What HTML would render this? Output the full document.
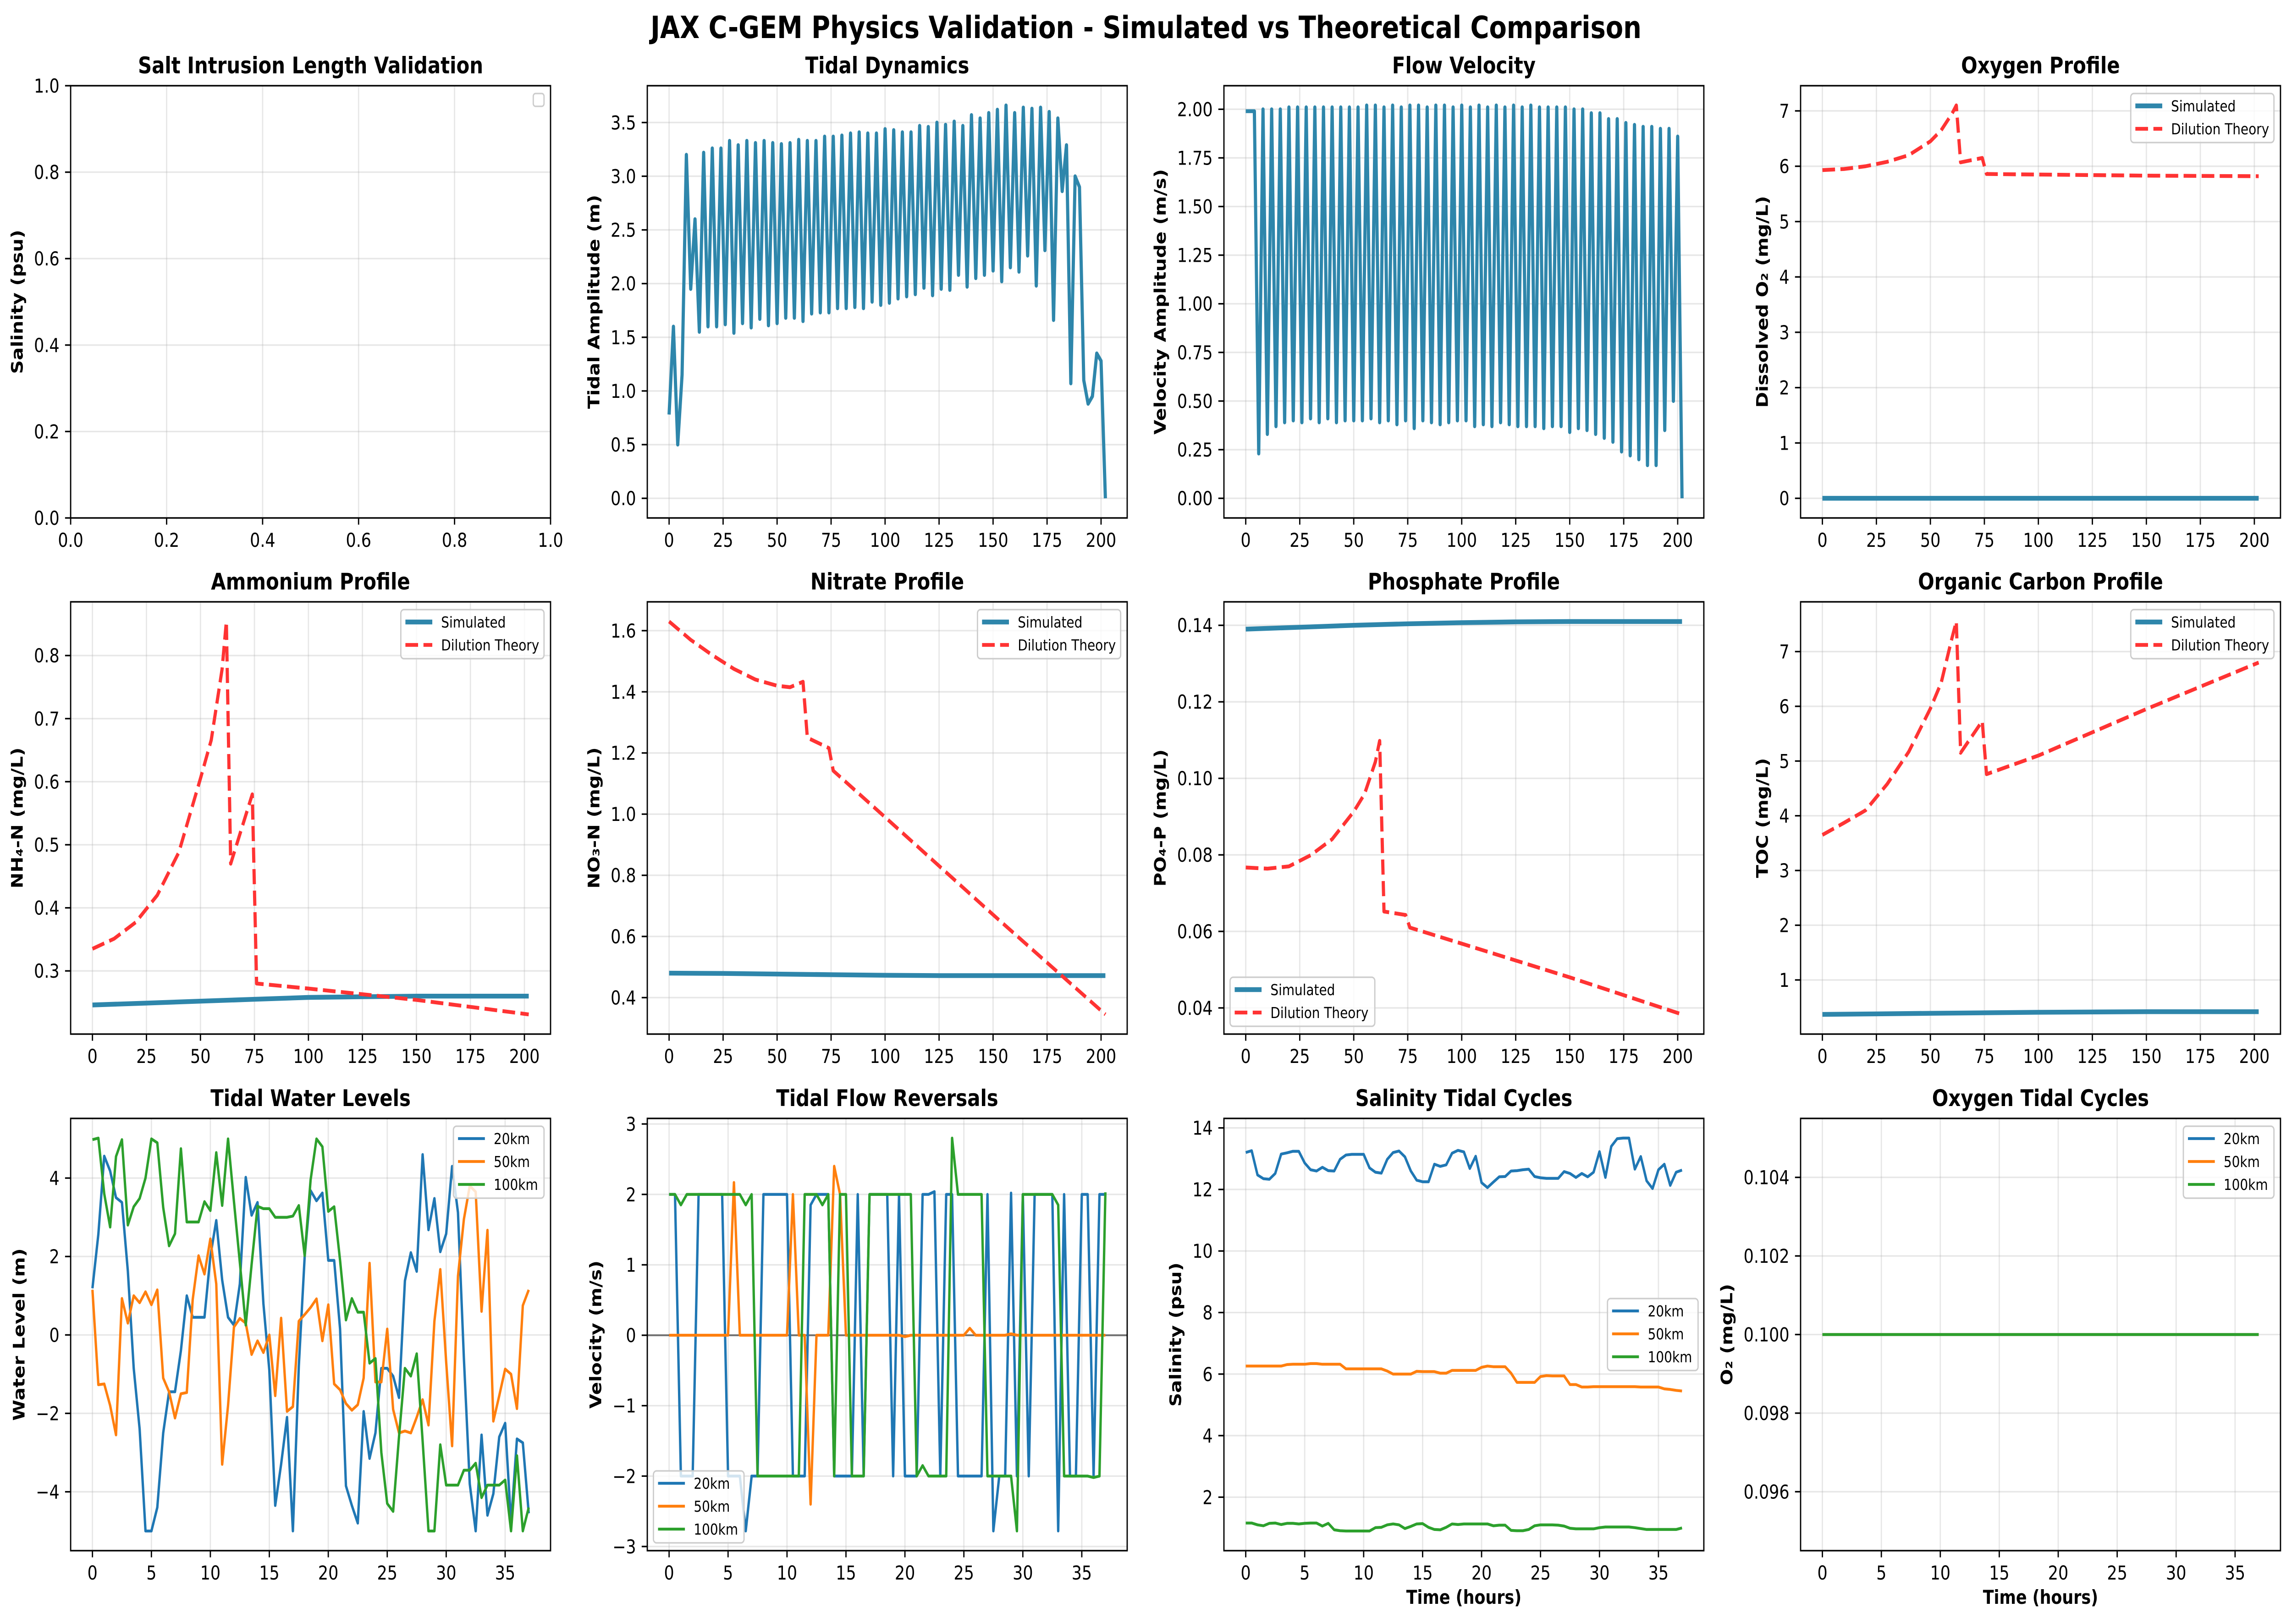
<!DOCTYPE html>
<html>
<head>
<meta charset="utf-8">
<title>JAX C-GEM Physics Validation</title>
<style>
html,body{margin:0;padding:0;background:#fff;width:5970px;height:3543px;overflow:hidden;}
svg{display:block;width:100vw;height:100vh;}
text{font-family:"DejaVu Sans","Liberation Sans",sans-serif;}
</style>
</head>
<body>
<svg id="fig" xmlns="http://www.w3.org/2000/svg" viewBox="0 0 5970 3543" preserveAspectRatio="none">
<rect x="0" y="0" width="5970" height="3543" fill="#ffffff"/>
<text x="2985" y="83" text-anchor="middle" font-size="66.7" font-weight="bold" fill="#000">JAX C-GEM Physics Validation - Simulated vs Theoretical Comparison</text>
</svg>
<script>
// ---------------- DATA ----------------
const tidalAmp = [0.78,1.6,0.5,1.15,3.2,1.95,2.6,1.55,
3.22,1.6,3.26,1.6,3.26,1.62,3.33,1.54,3.29,1.63,3.33,1.59,3.31,1.67,3.33,1.61,3.31,1.63,3.3,1.68,3.31,1.68,3.34,1.65,3.33,1.72,3.33,1.73,3.37,1.73,3.37,1.77,3.38,1.77,3.4,1.78,3.41,1.77,3.4,1.83,3.4,1.8,3.44,1.82,3.43,1.86,3.41,1.88,3.41,1.9,3.47,1.96,3.46,1.89,3.5,1.95,3.48,1.94,3.51,2.08,3.47,1.97,3.57,2.05,3.54,2.08,3.59,2.12,3.62,2.02,3.66,2.15,3.59,2.11,3.64,2.26,3.63,1.98,3.64,2.31,3.6,1.66,
3.54,2.86,3.29,1.07,3.0,2.9,1.1,0.88,0.95,1.35,1.28,0.0];
const velAmp = [1.99,1.99,1.99,0.23,2.0,0.33,2.0,0.37,2.0,0.39,2.01,0.40,2.01,0.39,2.01,0.41,2.01,0.39,2.01,0.41,2.01,0.39,2.01,0.40,2.01,0.40,2.01,0.40,2.02,0.41,2.02,0.39,2.01,0.40,2.02,0.38,2.01,0.40,2.02,0.36,2.02,0.40,2.01,0.39,2.02,0.38,2.02,0.39,2.01,0.40,2.02,0.40,2.01,0.37,2.02,0.38,2.01,0.37,2.02,0.39,2.01,0.38,2.02,0.37,2.01,0.37,2.02,0.37,2.01,0.36,2.01,0.37,2.01,0.37,2.01,0.34,2.0,0.36,2.0,0.35,1.98,0.33,1.98,0.31,1.95,0.29,1.95,0.24,1.93,0.22,1.92,0.20,1.91,0.17,1.91,0.17,1.90,0.35,1.90,0.50,1.86,0.0];
const distStep = 2;

const theoryX = [0,10,20,30,40,50,55,60,62,64,74,76,100,150,202];
const simX = [0,25,50,75,100,125,150,202];
const oxyTheory = [5.93,5.95,6.0,6.08,6.2,6.45,6.65,6.95,7.1,6.07,6.15,5.86,5.85,5.83,5.82];
const oxySim = [0,0,0,0,0,0,0,0];
const nh4Theory = [0.335,0.351,0.377,0.42,0.488,0.605,0.666,0.778,0.854,0.47,0.58,0.28,0.272,0.254,0.231];
const nh4Sim = [0.246,0.249,0.252,0.255,0.258,0.259,0.26,0.26];
const no3TheoryX = [0,10,20,30,40,50,56,62,64,74,76,100,150,202];
const no3Theory = [1.63,1.57,1.52,1.475,1.44,1.42,1.415,1.433,1.25,1.216,1.142,0.99,0.671,0.345];
const no3Sim = [0.48,0.479,0.477,0.475,0.473,0.472,0.472,0.472];
const po4Theory = [0.0767,0.0764,0.077,0.0799,0.0841,0.0913,0.0959,0.1043,0.1098,0.0652,0.0643,0.061,0.0568,0.048,0.0383];
const po4Sim = [0.139,0.1395,0.14,0.1404,0.1407,0.1409,0.141,0.141];
const tocTheory = [3.65,3.87,4.1,4.58,5.17,5.96,6.43,7.25,7.55,5.15,5.73,4.76,5.1,5.95,6.8];
const tocSim = [0.37,0.38,0.39,0.40,0.41,0.415,0.42,0.42];

const timeStep = 0.5;
const wl20 = [1.19,2.57,4.56,4.18,3.5,3.38,1.63,-0.85,-2.4,-5.0,-5.0,-4.4,-2.5,-1.45,-1.45,-0.4,1.0,0.45,0.45,0.45,2.0,2.92,1.4,0.45,0.25,1.3,4.02,3.05,3.38,0.8,-0.9,-4.35,-3.3,-2.1,-5.0,-0.8,2.0,3.68,3.42,3.62,1.9,1.9,0.15,-3.85,-4.35,-4.8,-1.95,-3.15,-2.5,-0.85,-0.85,-1.05,-1.6,1.38,2.1,1.62,4.6,2.68,3.48,2.12,2.58,4.3,3.12,-0.6,-3.8,-5.0,-2.55,-4.6,-4.05,-2.6,-2.25,-4.8,-2.65,-2.75,-4.55];
const wl50 = [1.15,-1.27,-1.25,-1.8,-2.55,0.93,0.3,1.0,0.82,1.1,0.77,1.15,-1.1,-1.45,-2.12,-1.5,-1.47,0.9,2.02,1.55,2.45,1.3,-3.3,-1.8,0.2,0.42,0.3,-0.5,-0.15,-0.45,0.0,-1.55,0.43,-1.95,-1.83,0.35,0.52,0.7,0.92,-0.15,0.77,-1.25,-1.4,-1.75,-1.92,-1.78,-1.1,1.83,-1.2,-1.2,0.15,-1.9,-2.5,-2.45,-2.5,-2.1,-1.65,-2.3,0.35,1.67,-0.7,-2.83,1.5,2.95,3.8,3.65,0.6,2.67,-2.2,-1.55,-0.87,-1.0,-1.88,0.75,1.15];
const wl100 = [4.98,5.02,3.6,2.75,4.55,4.98,2.8,3.27,3.48,4.0,5.0,4.9,3.25,2.27,2.58,4.75,2.88,2.88,2.88,3.4,3.17,4.65,3.3,5.0,3.4,1.85,0.25,1.8,3.28,3.22,3.22,3.0,3.0,3.0,3.03,3.3,2.02,3.95,5.0,4.8,3.15,3.27,1.9,0.38,0.93,0.58,0.58,-0.72,-0.6,-3.0,-4.3,-4.5,-2.6,-0.85,-1.05,-0.48,-2.7,-5.0,-5.0,-2.8,-3.83,-3.83,-3.83,-3.45,-3.45,-3.27,-4.15,-3.83,-3.83,-3.83,-3.7,-5.0,-3.08,-5.0,-4.4];
const fr20 = [2,2,-2,-2,-2,2,2,2,2,2,-2,-2,-2,-2.78,-2,-2,2,2,2,2,2,-2,-2,-2,1.85,2,2,2,-2,-2,-2,-2,2,-2,2,2,2,2,-2,2,-2,-2,-2,2,2,2.04,-2,2,2,-2,-2,-2,-2,-2,2,-2.78,-2,-2,2.02,-2,2,-2,2,2,2,2,-2.78,2,-2,-2,2,2,-2,2,2];
const fr50 = [0,0,0,0,0,0,0,0,0,0,0,2.17,0,0,0,0,0,0,0,0,0,2.0,0,0,-2.4,0,0,0,2.4,2.0,0,0,0,0,0,0,0,0,0,0,-0.02,0,0,0,0,0,0,0,0,0,0,0.1,0,0,0,0,0,0,0.02,0,0,0,0,0,0,0,0,0,0,0,0,0,0,0,0];
const fr100 = [2,2,1.85,2,2,2,2,2,2,2,2,2,2,1.85,2,-2,-2,-2,-2,-2,-2,-2,-2,2,2,2,1.85,2,-2,2,2,-2,-2,-2,2,2,2,2,2,2,2,2,-2,-1.85,-2,-2,-2,-2,2.8,2,2,2,2,2,-2,-2,-2,-2,-2,-2.78,2,2,2,2,2,2,1.85,-2,-2,-2,-2,-2,-2.02,-2,2.03];
const sal20 = [13.2,13.26,12.47,12.35,12.33,12.52,13.15,13.19,13.24,13.24,12.86,12.64,12.6,12.72,12.61,12.6,12.98,13.12,13.14,13.14,13.14,12.7,12.56,12.53,12.98,13.2,13.25,13.06,12.6,12.3,12.25,12.25,12.82,12.75,12.8,13.18,13.27,13.22,12.68,13.08,12.22,12.06,12.24,12.41,12.42,12.6,12.61,12.64,12.66,12.42,12.38,12.36,12.36,12.36,12.58,12.52,12.39,12.52,12.41,12.56,13.23,12.39,13.4,13.65,13.67,13.67,12.66,13.07,12.28,12.03,12.64,12.82,12.13,12.56,12.63];
const sal50 = [6.26,6.26,6.26,6.26,6.26,6.26,6.26,6.31,6.32,6.32,6.32,6.34,6.34,6.32,6.32,6.32,6.32,6.17,6.17,6.17,6.17,6.17,6.17,6.17,6.1,6.0,6.0,6.0,6.0,6.09,6.08,6.08,6.08,6.03,6.03,6.12,6.12,6.12,6.12,6.12,6.22,6.26,6.24,6.24,6.24,6.03,5.73,5.73,5.73,5.73,5.92,5.95,5.94,5.94,5.94,5.66,5.66,5.58,5.58,5.59,5.59,5.59,5.59,5.59,5.59,5.59,5.59,5.58,5.58,5.58,5.58,5.52,5.5,5.47,5.45];
const sal100 = [1.16,1.16,1.1,1.07,1.15,1.16,1.11,1.15,1.15,1.13,1.15,1.16,1.16,1.06,1.15,0.94,0.91,0.9,0.9,0.9,0.9,0.9,1.01,1.02,1.1,1.13,1.1,0.98,1.05,1.13,1.14,1.02,0.95,0.94,1.02,1.13,1.11,1.13,1.13,1.13,1.13,1.13,1.07,1.09,1.09,0.92,0.91,0.91,0.95,1.07,1.1,1.1,1.1,1.09,1.06,0.99,0.97,0.97,0.97,0.97,1.01,1.03,1.03,1.03,1.03,1.03,1.01,0.98,0.95,0.95,0.95,0.95,0.95,0.95,1.0];
const o2t20 = [0.1,0.1,0.1,0.1,0.1,0.1,0.1,0.1,0.1,0.1,0.1,0.1,0.1,0.1,0.1,0.1,0.1,0.1,0.1,0.1,0.1,0.1,0.1,0.1,0.1,0.1,0.1,0.1,0.1,0.1,0.1,0.1,0.1,0.1,0.1,0.1,0.1,0.1,0.1,0.1,0.1,0.1,0.1,0.1,0.1,0.1,0.1,0.1,0.1,0.1,0.1,0.1,0.1,0.1,0.1,0.1,0.1,0.1,0.1,0.1,0.1,0.1,0.1,0.1,0.1,0.1,0.1,0.1,0.1,0.1,0.1,0.1,0.1,0.1,0.1];
const o2t50 = [0.1,0.1,0.1,0.1,0.1,0.1,0.1,0.1,0.1,0.1,0.1,0.1,0.1,0.1,0.1,0.1,0.1,0.1,0.1,0.1,0.1,0.1,0.1,0.1,0.1,0.1,0.1,0.1,0.1,0.1,0.1,0.1,0.1,0.1,0.1,0.1,0.1,0.1,0.1,0.1,0.1,0.1,0.1,0.1,0.1,0.1,0.1,0.1,0.1,0.1,0.1,0.1,0.1,0.1,0.1,0.1,0.1,0.1,0.1,0.1,0.1,0.1,0.1,0.1,0.1,0.1,0.1,0.1,0.1,0.1,0.1,0.1,0.1,0.1,0.1];
const o2t100 = [0.1,0.1,0.1,0.1,0.1,0.1,0.1,0.1,0.1,0.1,0.1,0.1,0.1,0.1,0.1,0.1,0.1,0.1,0.1,0.1,0.1,0.1,0.1,0.1,0.1,0.1,0.1,0.1,0.1,0.1,0.1,0.1,0.1,0.1,0.1,0.1,0.1,0.1,0.1,0.1,0.1,0.1,0.1,0.1,0.1,0.1,0.1,0.1,0.1,0.1,0.1,0.1,0.1,0.1,0.1,0.1,0.1,0.1,0.1,0.1,0.1,0.1,0.1,0.1,0.1,0.1,0.1,0.1,0.1,0.1,0.1,0.1,0.1,0.1,0.1];

const distTicks = [0,25,50,75,100,125,150,175,200];
const distTickLabels = ['0','25','50','75','100','125','150','175','200'];
const timeTicks = [0,5,10,15,20,25,30,35];
const timeTickLabels = ['0','5','10','15','20','25','30','35'];
const unitTicks = [0,0.2,0.4,0.6,0.8,1.0];
const unitTickLabels = ['0.0','0.2','0.4','0.6','0.8','1.0'];
const tidalTicks = [0,0.5,1,1.5,2,2.5,3,3.5];
const tidalTickLabels = ['0.0','0.5','1.0','1.5','2.0','2.5','3.0','3.5'];
const velTicks = [0,0.25,0.5,0.75,1,1.25,1.5,1.75,2];
const velTickLabels = ['0.00','0.25','0.50','0.75','1.00','1.25','1.50','1.75','2.00'];
const oxyTicks = [0,1,2,3,4,5,6,7];
const oxyTickLabels = ['0','1','2','3','4','5','6','7'];
const nh4Ticks = [0.3,0.4,0.5,0.6,0.7,0.8];
const nh4TickLabels = ['0.3','0.4','0.5','0.6','0.7','0.8'];
const no3Ticks = [0.4,0.6,0.8,1.0,1.2,1.4,1.6];
const no3TickLabels = ['0.4','0.6','0.8','1.0','1.2','1.4','1.6'];
const po4Ticks = [0.04,0.06,0.08,0.10,0.12,0.14];
const po4TickLabels = ['0.04','0.06','0.08','0.10','0.12','0.14'];
const tocTicks = [1,2,3,4,5,6,7];
const tocTickLabels = ['1','2','3','4','5','6','7'];
const wlTicks = [-4,-2,0,2,4];
const wlTickLabels = ['\u22124','\u22122','0','2','4'];
const frTicks = [-3,-2,-1,0,1,2,3];
const frTickLabels = ['\u22123','\u22122','\u22121','0','1','2','3'];
const salTicks = [2,4,6,8,10,12,14];
const salTickLabels = ['2','4','6','8','10','12','14'];
const o2tTicks = [0.096,0.098,0.100,0.102,0.104];
const o2tTickLabels = ['0.096','0.098','0.100','0.102','0.104'];

// ---------------- LAYOUT / HELPERS ----------------
const NS = 'http://www.w3.org/2000/svg';
const svg = document.getElementById('fig');
const colL = [184,1686,3188,4690];
const rowT = [187,1313,2440];
const AW = 1250, AH = 943;
const PT = 300/72;
const FS_TICK = 10*PT, FS_TITLE = 12*PT, FS_LEG = 8*PT;
const SIM = '#2E86AB', THEO = '#ff3333';
const C1 = '#1f77b4', C2 = '#ff7f0e', C3 = '#2ca02c';
const canvas = document.createElement('canvas');
const ctx = canvas.getContext('2d');
function textW(s, fs, bold){ ctx.font = (bold?'bold ':'') + fs + 'px "DejaVu Sans"'; return ctx.measureText(s).width; }
function mk(tag, attrs, parent){
  const e = document.createElementNS(NS, tag);
  for (const k in attrs) e.setAttribute(k, attrs[k]);
  (parent || svg).appendChild(e);
  return e;
}
function seq(n, step){ const a=[]; for(let i=0;i<n;i++) a.push(+(i*step).toFixed(3)); return a; }
const distX = seq(tidalAmp.length, distStep);
const timeX = seq(wl20.length, timeStep);

let clipCount = 0;
function drawPanel(p){
  const L = colL[p.col], T = rowT[p.row], R = L + AW, B = T + AH;
  const g = mk('g', {});
  
  

  let xs = [], ys = [];
  p.series.forEach(s => { xs = xs.concat(s.x); ys = ys.concat(s.y); });
  let xmin, xmax, ymin, ymax;
  if (p.xlim) { xmin = p.xlim[0]; xmax = p.xlim[1]; }
  else { const a = Math.min(...xs), b = Math.max(...xs), m = (b-a)*0.05; xmin = a-m; xmax = b+m; }
  if (p.ylim) { ymin = p.ylim[0]; ymax = p.ylim[1]; }
  else { const a = Math.min(...ys), b = Math.max(...ys), m = (b-a)*0.05; ymin = a-m; ymax = b+m; }
  const sx = v => L + (v - xmin) / (xmax - xmin) * AW;
  const sy = v => B - (v - ymin) / (ymax - ymin) * AH;

  const bg = mk('rect', {x:L, y:T, width:AW, height:AH, fill:'#fff'}, g);
  
  

  const cid = 'clip' + (clipCount++);
  const cp = mk('clipPath', {id:cid}, g);
  mk('rect', {x:L, y:T, width:AW, height:AH}, cp);

  const grid = mk('g', {stroke:'#b0b0b0', 'stroke-opacity':0.3, 'stroke-width':0.8*PT}, g);
  
  
  p.xticks.forEach(t => { if (t>=xmin && t<=xmax) { const X = sx(t); mk('line', {x1:X, x2:X, y1:T, y2:B}, grid); } });
  p.yticks.forEach(t => { if (t>=ymin && t<=ymax) { const Y = sy(t); mk('line', {x1:L, x2:R, y1:Y, y2:Y}, grid); } });

  if (p.hline !== undefined) {
    const hl = mk('line', {x1:L, x2:R, y1:sy(p.hline), y2:sy(p.hline), stroke:'#000', 'stroke-opacity':0.5, 'stroke-width':1*PT}, g);
    
    
  }

  const sg = mk('g', {'clip-path':'url(#'+cid+')'}, g);
  p.series.forEach(s => {
    const pts = s.x.map((xv,i) => sx(xv).toFixed(1) + ',' + sy(s.y[i]).toFixed(1)).join(' ');
    const attrs = {points:pts, fill:'none', stroke:s.color, 'stroke-width':s.width, 'stroke-linejoin':'round', 'stroke-linecap':'butt'};
    if (s.dash) attrs['stroke-dasharray'] = s.dash;
    const pl = mk('polyline', attrs, sg);
    
    
  });

  const sp = mk('rect', {x:L, y:T, width:AW, height:AH, fill:'none', stroke:'#000', 'stroke-width':0.8*PT}, g);
  
  

  const xt = mk('g', {}, g);
  
  
  p.xticks.forEach((t,i) => {
    if (t < xmin || t > xmax) return;
    const X = sx(t);
    mk('line', {x1:X, x2:X, y1:B, y2:B+3.5*PT, stroke:'#000', 'stroke-width':0.8*PT}, xt);
    const tx = mk('text', {x:X, y:B+63, 'text-anchor':'middle', 'font-size':FS_TICK, fill:'#000'}, xt);
    tx.textContent = p.xtickLabels[i];
    
    
  });
  const yt = mk('g', {}, g);
  
  
  let maxW = 0;
  p.yticks.forEach((t,i) => {
    if (t < ymin || t > ymax) return;
    const Y = sy(t);
    mk('line', {x1:L-3.5*PT, x2:L, y1:Y, y2:Y, stroke:'#000', 'stroke-width':0.8*PT}, yt);
    const tx = mk('text', {x:L-7*PT, y:Y+0.36*FS_TICK, 'text-anchor':'end', 'font-size':FS_TICK, fill:'#000'}, yt);
    tx.textContent = p.ytickLabels[i];
    
    
    maxW = Math.max(maxW, textW(p.ytickLabels[i], FS_TICK, false));
  });

  const lx = L - 7*PT - maxW - 4*PT - 13;
  const yl = mk('text', {x:lx, y:(T+B)/2, transform:'rotate(-90 '+lx+' '+((T+B)/2)+')', 'text-anchor':'middle', 'font-size':FS_TICK, 'font-weight':'bold', fill:'#000'}, g);
  yl.textContent = p.ylabel;
  
  
  if (p.xlabel) {
    const xl = mk('text', {x:(L+R)/2, y:B+116, 'text-anchor':'middle', 'font-size':FS_TICK, 'font-weight':'bold', fill:'#000'}, g);
    xl.textContent = p.xlabel;
    
    
  }
  const ti = mk('text', {x:(L+R)/2, y:T-27, 'text-anchor':'middle', 'font-size':FS_TITLE, 'font-weight':'bold', fill:'#000'}, g);
  ti.textContent = p.title;
  
  

  if (p.legend) {
    const ents = p.series.filter(s => s.label);
    const lg = mk('g', {}, g);
    
    
    if (ents.length === 0) {
      const bx = mk('rect', {x:R-17-28, y:T+17, width:28, height:28, rx:6, fill:'#fff', 'fill-opacity':0.8, stroke:'#cccccc', 'stroke-width':0.8*PT}, lg);
      
      
    } else {
      const w = p.legend.w, h = 50*(ents.length-1) + 57;
      let bxX, bxY;
      if (p.legend.loc === 'ur') { bxX = R - 17 - w; bxY = T + 17; }
      else if (p.legend.loc === 'll') { bxX = L + 16; bxY = B - 17 - h; }
      else { bxX = R - 15 - w; bxY = (T+B)/2 - h/2; }
      const bx = mk('rect', {x:bxX, y:bxY, width:w, height:h, rx:8, fill:'#fff', 'fill-opacity':0.8, stroke:'#cccccc', 'stroke-width':0.8*PT}, lg);
      
      
      ents.forEach((s,i) => {
        const cy = bxY + 27 + 50*i;
        const eg = mk('g', {}, lg);
        
        
        const la = {x1:bxX+12, x2:bxX+82, y1:cy, y2:cy, stroke:s.color, 'stroke-width':s.width};
        if (s.dash) la['stroke-dasharray'] = s.dash;
        mk('line', la, eg);
        const tx = mk('text', {x:bxX+105, y:cy+0.36*FS_LEG, 'font-size':FS_LEG, fill:'#000'}, eg);
        tx.textContent = s.label;
      });
    }
  }
}

const dashTheo = '33,14';
const LWS = 2.5*PT, LWT = 2*PT, LW3 = 1.5*PT;

drawPanel({name:'salt-intrusion-panel', col:0, row:0, title:'Salt Intrusion Length Validation', ylabel:'Salinity (psu)',
  xlim:[0,1], ylim:[0,1], xticks:unitTicks, xtickLabels:unitTickLabels, yticks:unitTicks, ytickLabels:unitTickLabels,
  series:[], legend:{loc:'ur', w:28}});
drawPanel({name:'tidal-dynamics-panel', col:1, row:0, title:'Tidal Dynamics', ylabel:'Tidal Amplitude (m)',
  xticks:distTicks, xtickLabels:distTickLabels, yticks:tidalTicks, ytickLabels:tidalTickLabels,
  series:[{name:'tidal-amplitude-line', x:distX, y:tidalAmp, color:SIM, width:LWT}]});
drawPanel({name:'flow-velocity-panel', col:2, row:0, title:'Flow Velocity', ylabel:'Velocity Amplitude (m/s)',
  xticks:distTicks, xtickLabels:distTickLabels, yticks:velTicks, ytickLabels:velTickLabels,
  series:[{name:'velocity-amplitude-line', x:distX, y:velAmp, color:SIM, width:LWT}]});
drawPanel({name:'oxygen-profile-panel', col:3, row:0, title:'Oxygen Profile', ylabel:'Dissolved O\u2082 (mg/L)',
  xticks:distTicks, xtickLabels:distTickLabels, yticks:oxyTicks, ytickLabels:oxyTickLabels,
  series:[{name:'oxygen-simulated-line', x:simX, y:oxySim, color:SIM, width:LWS, label:'Simulated'},
          {name:'oxygen-theory-line', x:theoryX, y:oxyTheory, color:THEO, width:LWT, dash:dashTheo, label:'Dilution Theory'}],
  legend:{loc:'ur', w:373}});
drawPanel({name:'ammonium-profile-panel', col:0, row:1, title:'Ammonium Profile', ylabel:'NH\u2084-N (mg/L)',
  xticks:distTicks, xtickLabels:distTickLabels, yticks:nh4Ticks, ytickLabels:nh4TickLabels,
  series:[{name:'ammonium-simulated-line', x:simX, y:nh4Sim, color:SIM, width:LWS, label:'Simulated'},
          {name:'ammonium-theory-line', x:theoryX, y:nh4Theory, color:THEO, width:LWT, dash:dashTheo, label:'Dilution Theory'}],
  legend:{loc:'ur', w:373}});
drawPanel({name:'nitrate-profile-panel', col:1, row:1, title:'Nitrate Profile', ylabel:'NO\u2083-N (mg/L)',
  xticks:distTicks, xtickLabels:distTickLabels, yticks:no3Ticks, ytickLabels:no3TickLabels,
  series:[{name:'nitrate-simulated-line', x:simX, y:no3Sim, color:SIM, width:LWS, label:'Simulated'},
          {name:'nitrate-theory-line', x:no3TheoryX, y:no3Theory, color:THEO, width:LWT, dash:dashTheo, label:'Dilution Theory'}],
  legend:{loc:'ur', w:373}});
drawPanel({name:'phosphate-profile-panel', col:2, row:1, title:'Phosphate Profile', ylabel:'PO\u2084-P (mg/L)',
  xticks:distTicks, xtickLabels:distTickLabels, yticks:po4Ticks, ytickLabels:po4TickLabels,
  series:[{name:'phosphate-simulated-line', x:simX, y:po4Sim, color:SIM, width:LWS, label:'Simulated'},
          {name:'phosphate-theory-line', x:theoryX, y:po4Theory, color:THEO, width:LWT, dash:dashTheo, label:'Dilution Theory'}],
  legend:{loc:'ll', w:377}});
drawPanel({name:'organic-carbon-panel', col:3, row:1, title:'Organic Carbon Profile', ylabel:'TOC (mg/L)',
  xticks:distTicks, xtickLabels:distTickLabels, yticks:tocTicks, ytickLabels:tocTickLabels,
  series:[{name:'toc-simulated-line', x:simX, y:tocSim, color:SIM, width:LWS, label:'Simulated'},
          {name:'toc-theory-line', x:theoryX, y:tocTheory, color:THEO, width:LWT, dash:dashTheo, label:'Dilution Theory'}],
  legend:{loc:'ur', w:373}});
drawPanel({name:'tidal-water-levels-panel', col:0, row:2, title:'Tidal Water Levels', ylabel:'Water Level (m)',
  xticks:timeTicks, xtickLabels:timeTickLabels, yticks:wlTicks, ytickLabels:wlTickLabels,
  series:[{name:'water-level-20km', x:timeX, y:wl20, color:C1, width:LW3, label:'20km'},
          {name:'water-level-50km', x:timeX, y:wl50, color:C2, width:LW3, label:'50km'},
          {name:'water-level-100km', x:timeX, y:wl100, color:C3, width:LW3, label:'100km'}],
  legend:{loc:'ur', w:236}});
drawPanel({name:'tidal-flow-reversals-panel', col:1, row:2, title:'Tidal Flow Reversals', ylabel:'Velocity (m/s)',
  xticks:timeTicks, xtickLabels:timeTickLabels, yticks:frTicks, ytickLabels:frTickLabels, hline:0,
  series:[{name:'velocity-20km', x:timeX, y:fr20, color:C1, width:LW3, label:'20km'},
          {name:'velocity-50km', x:timeX, y:fr50, color:C2, width:LW3, label:'50km'},
          {name:'velocity-100km', x:timeX, y:fr100, color:C3, width:LW3, label:'100km'}],
  legend:{loc:'ll', w:236}});
drawPanel({name:'salinity-tidal-cycles-panel', col:2, row:2, title:'Salinity Tidal Cycles', ylabel:'Salinity (psu)', xlabel:'Time (hours)',
  xticks:timeTicks, xtickLabels:timeTickLabels, yticks:salTicks, ytickLabels:salTickLabels,
  series:[{name:'salinity-20km', x:timeX, y:sal20, color:C1, width:LW3, label:'20km'},
          {name:'salinity-50km', x:timeX, y:sal50, color:C2, width:LW3, label:'50km'},
          {name:'salinity-100km', x:timeX, y:sal100, color:C3, width:LW3, label:'100km'}],
  legend:{loc:'cr', w:236}});
drawPanel({name:'oxygen-tidal-cycles-panel', col:3, row:2, title:'Oxygen Tidal Cycles', ylabel:'O\u2082 (mg/L)', xlabel:'Time (hours)',
  ylim:[0.0945,0.1055],
  xticks:timeTicks, xtickLabels:timeTickLabels, yticks:o2tTicks, ytickLabels:o2tTickLabels,
  series:[{name:'oxygen-20km', x:timeX, y:o2t20, color:C1, width:LW3, label:'20km'},
          {name:'oxygen-50km', x:timeX, y:o2t50, color:C2, width:LW3, label:'50km'},
          {name:'oxygen-100km', x:timeX, y:o2t100, color:C3, width:LW3, label:'100km'}],
  legend:{loc:'ur', w:236}});
</script>
</body>
</html>
